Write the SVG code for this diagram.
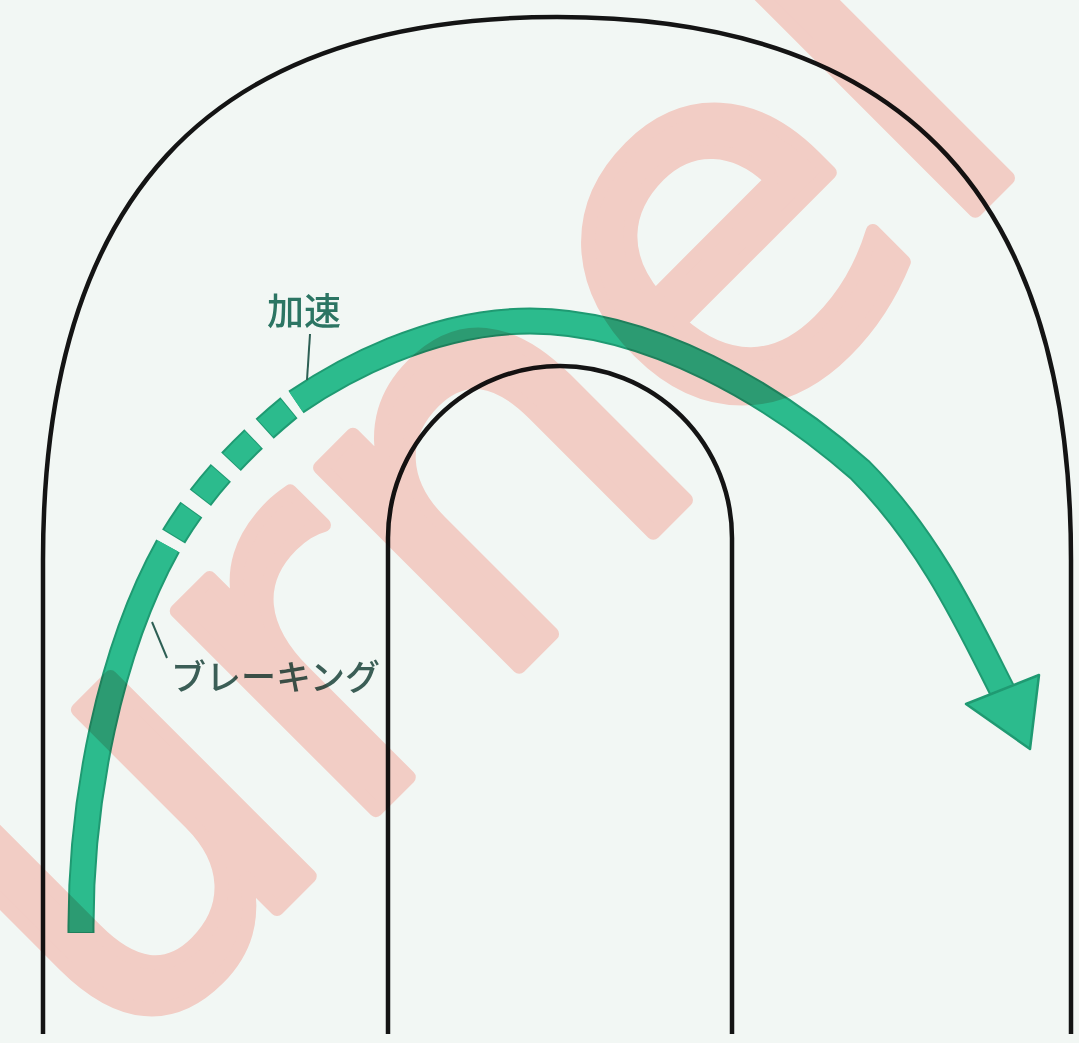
<svg xmlns="http://www.w3.org/2000/svg" width="1079" height="1043" viewBox="0 0 1079 1043">
  <style>
    .track { fill: none; stroke: #141414; stroke-width: 4.5; stroke-linecap: butt; }
    .lineUnder { fill: none; stroke: #1f9a72; stroke-width: 27; stroke-linecap: butt; }
    .lineMain { fill: none; stroke: #2cbb8d; stroke-width: 23; stroke-linecap: butt; }
    .leader { fill: none; stroke: #2d5f54; stroke-width: 2; }
    .label { font-family: "Noto Sans CJK JP", "Noto Sans", sans-serif; font-weight: 500; }
    .wm { font-family: "DejaVu Sans", sans-serif; fill: #ffd4ce; stroke: #ffd4ce; stroke-width: 14; stroke-linejoin: round; stroke-linecap: round; mix-blend-mode: multiply; }
  </style>
  <rect id="background" x="0" y="0" width="1079" height="1043" fill="#f2f7f4"/>

  <g id="outer-track">
    <path class="track" d="M 43 1034 L 43 560 C 43 205, 202 17, 557 17 C 912 17, 1071 205, 1071 560 L 1071 1034"/>
  </g>
  <g id="inner-track">
    <path class="track" d="M 388 1034 L 388 538 A 172 172 0 0 1 732 538 L 732 1034"/>
  </g>

  <g id="connectors">
    <g id="racing-line">
      <path class="lineUnder" d="M 81 933 C 80 800, 110 650, 168 546"/>
      <path class="lineMain" d="M 81 932 C 80 800, 110 650, 168 546"/>
      <path class="lineUnder" pathLength="193" stroke-dasharray="0 11 32 15 32 15 32 15 32 9" d="M 168 546 C 200 490, 245 443, 296 402"/>
      <path class="lineMain" pathLength="193" stroke-dasharray="0 12 30 17 30 17 30 17 30 10" d="M 168 546 C 200 490, 245 443, 296 402"/>
      <path class="lineUnder" d="M 296 402 C 340 372, 430 321, 530 321 C 650 321, 775 395, 860 470 C 930 540, 970 627, 1002 690"/>
      <path class="lineMain" d="M 296 402 C 340 372, 430 321, 530 321 C 650 321, 775 395, 860 470 C 930 540, 970 627, 1002 690"/>
      <polygon points="966,704 1039,675 1030,749" fill="#2cbb8d" stroke="#1f9a72" stroke-width="2.5" stroke-linejoin="round"/>
    </g>
    <path class="leader" d="M 310 334 L 307 380"/>
    <path class="leader" d="M 152 622 L 167 658"/>
  </g>

  <g id="label-accel">
    <text class="label" x="267" y="325" font-size="37" fill="#2c7563">加速</text>
  </g>
  <g id="label-braking">
    <text class="label" x="171" y="690" font-size="35" fill="#3b5e56">ブレーキング</text>
  </g>

  <g id="watermark">
    <text class="wm" transform="translate(112,1074) rotate(-45)" x="0" y="0" font-size="515">urnel</text>
  </g>
</svg>
